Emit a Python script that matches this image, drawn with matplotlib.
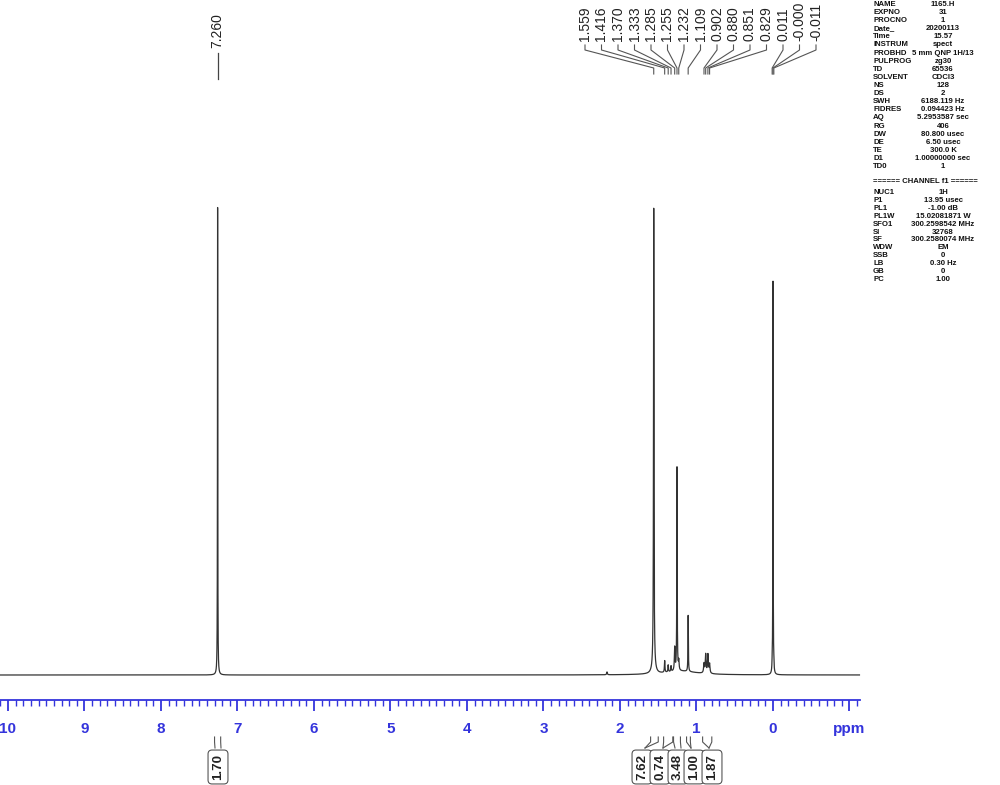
"""1H NMR spectrum (CDCl3, 300 MHz) drawn in the Bruker TopSpin print style."""
import numpy as np
import matplotlib
matplotlib.use('Agg')
import matplotlib.pyplot as plt
from matplotlib.ticker import FixedLocator, FixedFormatter

plt.rcParams['font.family'] = ['Liberation Sans', 'DejaVu Sans']

# peaks: shift (ppm), height (relative), half width (ppm)
peak_ppm = [7.260, 1.559, 1.559, 1.416, 1.370, 1.333, 1.285, 1.255, 1.232,
            1.109, 0.902, 0.880, 0.851, 0.829, 0.011, 0.000, -0.011,
            1.200, 2.170]
peak_height = [1.00, 0.975, 0.020, 0.025, 0.015, 0.012, 0.050, 0.435, 0.020,
               0.120, 0.020, 0.040, 0.040, 0.020, 0.012, 0.840, 0.012,
               0.008, 0.006]
peak_width = [0.0022, 0.0035, 0.02, 0.004, 0.004, 0.004, 0.005, 0.003, 0.005,
              0.003, 0.006, 0.006, 0.006, 0.006, 0.003, 0.0022, 0.003,
              0.25, 0.005]

# peak picking labels
label_7 = ['7.260']
label_hi = ['1.559', '1.416', '1.370', '1.333', '1.285', '1.255', '1.232', '1.109',
            '0.902', '0.880', '0.851', '0.829', '0.011', '-0.000', '-0.011']

# integrals: (from ppm, to ppm, value)
int_from = [7.30, 1.60, 1.43, 1.30, 1.13, 0.92]
int_to = [7.22, 1.50, 1.31, 1.21, 1.08, 0.80]
int_value = ['1.70', '7.62', '0.74', '3.48', '1.00', '1.87']

# acquisition / processing parameters
par_keys = ['NAME', 'EXPNO', 'PROCNO', 'Date_', 'Time', 'INSTRUM', 'PROBHD', 'PULPROG',
            'TD', 'SOLVENT', 'NS', 'DS', 'SWH', 'FIDRES', 'AQ', 'RG', 'DW', 'DE', 'TE',
            'D1', 'TD0']
par_vals = ['1165.H', '31', '1', '20200113', '15.57', 'spect', '5 mm QNP 1H/13', 'zg30',
            '65536', 'CDCl3', '128', '2', '6188.119 Hz', '0.094423 Hz', '5.2953587 sec',
            '406', '80.800 usec', '6.50 usec', '300.0 K', '1.00000000 sec', '1']
ch_keys = ['NUC1', 'P1', 'PL1', 'PL1W', 'SFO1', 'SI', 'SF', 'WDW', 'SSB', 'LB', 'GB', 'PC']
ch_vals = ['1H', '13.95 usec', '-1.00 dB', '15.02081871 W', '300.2598542 MHz', '32768',
           '300.2580074 MHz', 'EM', '0', '0.30 Hz', '0', '1.00']

# pixel layout: ppm 0 at x=773, 76.5 px per ppm
PX0, PXPPM = 773.0, 76.5
W, H = 1000, 785
def px(ppm):
    return PX0 - PXPPM * np.asarray(ppm)

BLUE = '#3434dc'
fig = plt.figure(figsize=(W / 100, H / 100), dpi=100)

# spectrum + ppm ruler
ax = fig.add_axes([0, 85 / H, 1, 700 / H])
ax.set_xlim(PX0 / PXPPM, (PX0 - W) / PXPPM)
scale = 468.0
ax.set_ylim(-25 / scale, 675 / scale)

x = np.linspace(10.1, -1.13, 60000)
y = np.zeros_like(x)
for c, h, w in zip(peak_ppm, peak_height, peak_width):
    y += h / (1 + ((x - c) / w) ** 2)
ax.plot(x, y, color='#333333', lw=0.9)

for s in ['top', 'left', 'right']:
    ax.spines[s].set_visible(False)
ax.spines['bottom'].set_color(BLUE)
ax.spines['bottom'].set_linewidth(1.3)
ax.spines['bottom'].set_bounds(10.105, (PX0 - 860) / PXPPM)
ax.set_yticks([])
majors = list(range(10, -2, -1))
ax.xaxis.set_major_locator(FixedLocator(majors))
ax.xaxis.set_major_formatter(FixedFormatter([str(m) for m in majors[:-1]] + ['ppm']))
ax.xaxis.set_minor_locator(FixedLocator(np.arange(-11, 102) / 10))
ax.tick_params(axis='x', which='major', length=8, width=1.3, color=BLUE,
               labelcolor=BLUE, labelsize=11, pad=8)
ax.tick_params(axis='x', which='minor', length=4, width=1.0, color=BLUE)
for t in ax.get_xticklabels():
    t.set_fontweight('bold')
ax.patch.set_alpha(0)

# overlay in pixel coordinates for labels
ov = fig.add_axes([0, 0, 1, 1])
ov.set_xlim(0, W)
ov.set_ylim(H, 0)
ov.axis('off')
ov.patch.set_alpha(0)

lab_kw = dict(rotation=90, fontsize=10, color='#222222', ha='center', va='bottom')
ov.text(px(7.26), 48, label_7[0], **lab_kw)
ov.plot([px(7.26)] * 2, [53, 79], color='#444444', lw=0.9)

start, step = 585, 16.5
for i, lab in enumerate(label_hi):
    lx = start + i * step
    pk = px(float(lab))
    ov.text(lx, 41, lab, **lab_kw)
    ov.plot([lx, lx, pk, pk], [45, 50, 68, 74], color='#555555', lw=0.8)

# integrals below the ruler
box_x = [218, 642, 660, 678, 694, 712]
for a, b, val, bx in zip(int_from, int_to, int_value, box_x):
    for e in (px(a), px(b)):
        ov.plot([e, e, bx + (3 if e > bx else -3)], [737, 742, 748],
                color='#555555', lw=0.8)
    ov.text(bx, 767, val, rotation=90, fontsize=9.5, fontweight='bold',
            color='#222222', ha='center', va='center',
            bbox=dict(boxstyle='round,pad=0.3', fc='white', ec='#555555', lw=0.8))

# parameter panel
pk_kw = dict(fontsize=5.6, color='#111111', va='top', fontweight='bold')
for i, (k, v) in enumerate(zip(par_keys, par_vals)):
    yy = 1 + 8.1 * i
    ov.text(873, yy, k, ha='left', **pk_kw)
    ov.text(943, yy, v, ha='center', **pk_kw)
ov.text(873, 178, '====== CHANNEL f1 ======', ha='left', **pk_kw)
for j, (k, v) in enumerate(zip(ch_keys, ch_vals)):
    yy = 189 + 7.9 * j
    ov.text(873, yy, k, ha='left', **pk_kw)
    ov.text(943, yy, v, ha='center', **pk_kw)

fig.savefig('out.png', dpi=100)
